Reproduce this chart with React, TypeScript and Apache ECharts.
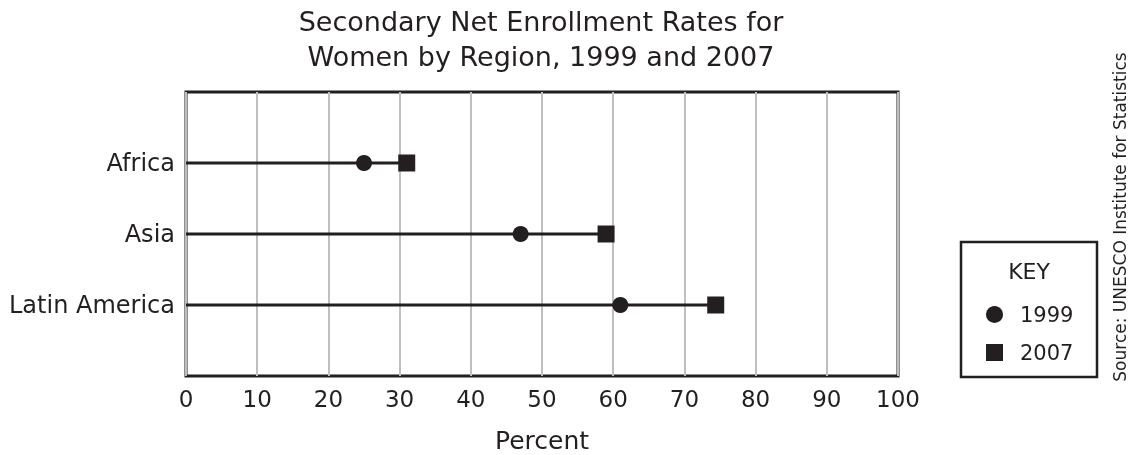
import React, { useEffect, useRef } from "react";
import * as echarts from "echarts";

const regions = ["Africa", "Asia", "Latin America"];
const rate1999 = [25, 47, 61];
const rate2007 = [31, 59, 74.4];
const xTicks = [0, 10, 20, 30, 40, 50, 60, 70, 80, 90, 100];
const legendNames = ["1999", "2007"];

const INK = "#231f20";
const FONT = "DejaVu Sans";

export default function App() {
  const ref = useRef<HTMLDivElement>(null);
  useEffect(() => {
    if (!ref.current) return;
    const chart = echarts.init(ref.current, undefined, { renderer: "svg" });
    const lineSeries = regions.map((r, i) => ({
      type: "line",
      name: r + " span",
      data: [
        [0, i + 1],
        [rate2007[i], i + 1],
      ],
      symbol: "none",
      lineStyle: { color: INK, width: 3 },
      z: 3,
      silent: true,
    }));
    chart.setOption({
      animation: false,
      title: {
        text: "Secondary Net Enrollment Rates for\nWomen by Region, 1999 and 2007",
        left: 541,
        top: 4,
        textAlign: "center",
        padding: 0,
        textStyle: {
          fontFamily: FONT,
          fontWeight: "normal",
          fontSize: 27,
          lineHeight: 35,
          color: INK,
        },
      },
      grid: {
        left: 186,
        right: 232,
        top: 92,
        bottom: 79,
        show: true,
        borderColor: INK,
        borderWidth: 3,
        containLabel: false,
        outerBoundsMode: "none",
      },
      xAxis: {
        type: "value",
        min: xTicks[0],
        max: xTicks[xTicks.length - 1],
        interval: 10,
        name: "Percent",
        nameLocation: "middle",
        nameGap: 52,
        nameTextStyle: { fontFamily: FONT, fontSize: 25, color: INK },
        axisLine: { show: false },
        axisTick: { show: false },
        axisLabel: { fontFamily: FONT, fontSize: 23, color: INK, margin: 11 },
        splitLine: { show: true, lineStyle: { color: "#bfbfc2", width: 2 } },
      },
      yAxis: {
        type: "value",
        min: 0,
        max: 4,
        interval: 1,
        inverse: true,
        axisLine: { show: false },
        axisTick: { show: false },
        splitLine: { show: false },
        axisLabel: {
          fontFamily: FONT,
          fontSize: 24,
          color: INK,
          margin: 11,
          formatter: (v: number) => (v >= 1 && v <= regions.length ? regions[v - 1] : ""),
        },
      },
      legend: {
        data: legendNames,
        orient: "vertical",
        left: 981,
        top: 299,
        itemWidth: 17,
        itemHeight: 17,
        itemGap: 17,
        textStyle: { fontFamily: FONT, fontSize: 21, lineHeight: 17, color: INK, padding: [0, 0, 0, 12] },
        selectedMode: false,
      },
      graphic: [
        {
          type: "rect",
          shape: { x: 961, y: 242, width: 136, height: 135 },
          style: { fill: "#fff", stroke: INK, lineWidth: 2.5 },
          z: -1,
        },
        {
          type: "text",
          x: 1029,
          y: 271,
          style: { text: "KEY", fontFamily: FONT, fontSize: 22, fill: INK, textAlign: "center", textVerticalAlign: "middle" },
        },
        {
          type: "text",
          x: 1120,
          y: 217,
          rotation: Math.PI / 2,
          style: {
            text: "Source: UNESCO Institute for Statistics",
            fontFamily: FONT,
            fontSize: 17,
            fill: INK,
            textAlign: "center",
            textVerticalAlign: "middle",
          },
        },
      ],
      series: [
        ...lineSeries,
        {
          type: "scatter",
          name: legendNames[0],
          data: rate1999.map((v, i) => [v, i + 1]),
          symbol: "circle",
          symbolSize: 16,
          itemStyle: { color: INK, opacity: 1 },
          z: 5,
        },
        {
          type: "scatter",
          name: legendNames[1],
          data: rate2007.map((v, i) => [v, i + 1]),
          symbol: "rect",
          symbolSize: 17,
          itemStyle: { color: INK, opacity: 1 },
          z: 5,
        },
      ],
    });
    return () => chart.dispose();
  }, []);
  return <div ref={ref} style={{ position: "fixed", left: 0, top: 0, width: 1130, height: 455 }} />;
}
